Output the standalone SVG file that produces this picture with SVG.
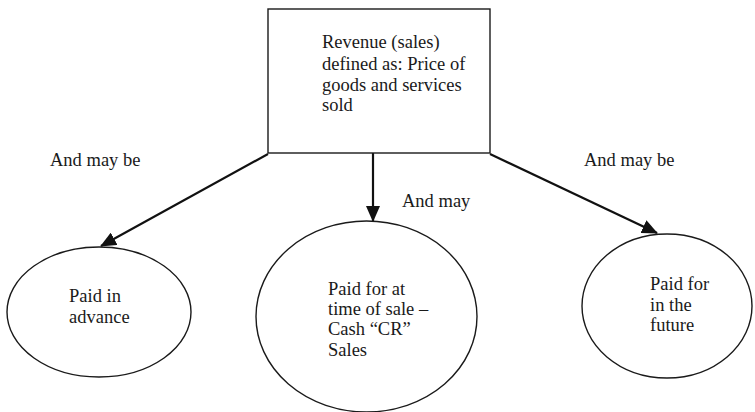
<svg xmlns="http://www.w3.org/2000/svg" width="755" height="412" viewBox="0 0 755 412">
<style>
text{font-family:"Liberation Serif","Times New Roman",serif;font-size:18.5px;fill:#1a1a1a}
.shape{fill:#fff;stroke:#1a1a1a;stroke-width:1.4}
.conn{stroke:#111;stroke-width:2.2;fill:none}
</style>
<defs>
<marker id="ah" markerUnits="userSpaceOnUse" markerWidth="16" markerHeight="14" viewBox="0 0 16 14" refX="15" refY="7" orient="auto">
<path d="M0,0 L16,7 L0,14 Z" fill="#111"/>
</marker>
</defs>
<rect width="755" height="412" fill="#fff"/>
<g id="connectors">
<line class="conn" x1="268" y1="154" x2="101" y2="246" marker-end="url(#ah)"/>
<line class="conn" x1="373" y1="153" x2="373" y2="221" marker-end="url(#ah)"/>
<line class="conn" x1="490" y1="154" x2="657" y2="233" marker-end="url(#ah)"/>
</g>
<g id="revenue">
<rect class="shape" x="268" y="9" width="222" height="144"/>
<text x="322" y="48">Revenue (sales)</text>
<text x="322" y="70">defined as: Price of</text>
<text x="322" y="91">goods and services</text>
<text x="322" y="111">sold</text>
</g>
<g id="advance">
<ellipse class="shape" cx="99" cy="312" rx="92" ry="65"/>
<text x="69" y="302">Paid in</text>
<text x="69" y="323">advance</text>
</g>
<g id="time-of-sale">
<ellipse class="shape" cx="366.5" cy="316.5" rx="110.5" ry="95.5"/>
<text x="328" y="295">Paid for at</text>
<text x="328" y="315">time of sale –</text>
<text x="328" y="335">Cash “CR”</text>
<text x="328" y="356">Sales</text>
</g>
<g id="future">
<ellipse class="shape" cx="667" cy="306" rx="85" ry="72"/>
<text x="650" y="290">Paid for</text>
<text x="650" y="310.5">in the</text>
<text x="650" y="331">future</text>
</g>
<g id="labels">
<text x="50" y="166">And may be</text>
<text x="402" y="207">And may</text>
<text x="584" y="166">And may be</text>
</g>
</svg>
